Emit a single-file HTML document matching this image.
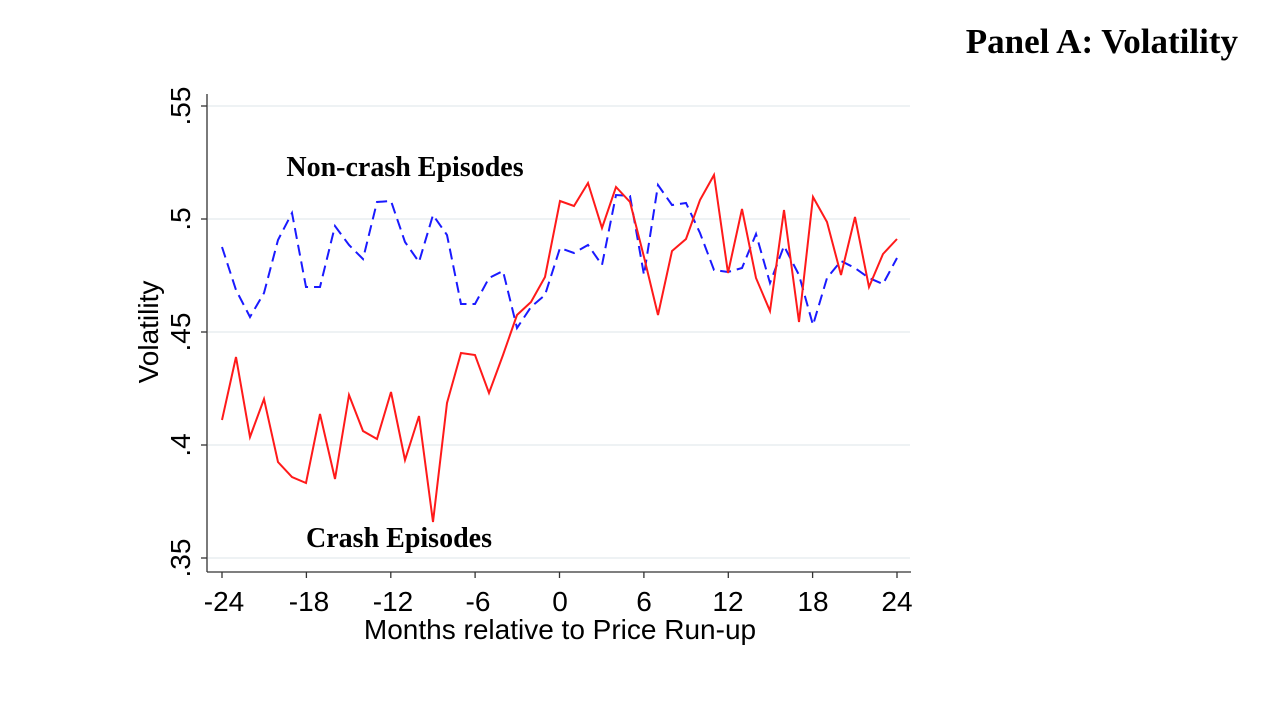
<!DOCTYPE html>
<html><head><style>body{margin:0;background:#fff}svg{display:block}</style></head>
<body>
<svg width="1261" height="702" xmlns="http://www.w3.org/2000/svg">
<rect width="1261" height="702" fill="#fff"/>
<text x="1238" y="53" text-anchor="end" font-family="Liberation Serif, serif" font-weight="bold" font-size="35">Panel A: Volatility</text>
<g stroke="#e8eef0" stroke-width="1.5">
<line x1="208" y1="106" x2="910" y2="106"/><line x1="208" y1="219" x2="910" y2="219"/><line x1="208" y1="332" x2="910" y2="332"/><line x1="208" y1="445" x2="910" y2="445"/><line x1="208" y1="558" x2="910" y2="558"/>
</g>
<g stroke="#333" stroke-width="1.3" fill="none">
<line x1="207" y1="94" x2="207" y2="572"/><line x1="207" y1="572" x2="911" y2="572"/>
<line x1="201" y1="106" x2="207" y2="106"/><line x1="201" y1="219" x2="207" y2="219"/><line x1="201" y1="332" x2="207" y2="332"/><line x1="201" y1="445" x2="207" y2="445"/><line x1="201" y1="558" x2="207" y2="558"/>
<line x1="222" y1="572" x2="222" y2="578"/><line x1="306.4" y1="572" x2="306.4" y2="578"/><line x1="390.8" y1="572" x2="390.8" y2="578"/><line x1="475.1" y1="572" x2="475.1" y2="578"/><line x1="559.5" y1="572" x2="559.5" y2="578"/><line x1="643.9" y1="572" x2="643.9" y2="578"/><line x1="728.3" y1="572" x2="728.3" y2="578"/><line x1="812.6" y1="572" x2="812.6" y2="578"/><line x1="897" y1="572" x2="897" y2="578"/>
</g>
<g font-family="Liberation Sans, sans-serif" font-size="28" fill="#000">
<g text-anchor="middle">
<text transform="translate(190,106) rotate(-90)">.55</text>
<text transform="translate(190,219) rotate(-90)">.5</text>
<text transform="translate(190,332) rotate(-90)">.45</text>
<text transform="translate(190,445) rotate(-90)">.4</text>
<text transform="translate(190,558) rotate(-90)">.35</text>
<text transform="translate(158,332) rotate(-90)">Volatility</text>
<text x="224" y="611">-24</text><text x="309" y="611">-18</text><text x="393" y="611">-12</text><text x="478" y="611">-6</text><text x="560" y="611">0</text><text x="644" y="611">6</text><text x="728" y="611">12</text><text x="813" y="611">18</text><text x="897" y="611">24</text>
<text x="560" y="639">Months relative to Price Run-up</text>
</g></g>
<text x="405" y="176" text-anchor="middle" font-family="Liberation Serif, serif" font-weight="bold" font-size="28">Non-crash Episodes</text>
<text x="399" y="547" text-anchor="middle" font-family="Liberation Serif, serif" font-weight="bold" font-size="28">Crash Episodes</text>
<polyline fill="none" stroke="#1a1aff" stroke-width="2" stroke-dasharray="11,6" points="222,247 236,290 250,317 264,293 278,240 292,213 306,287 320,287 335,226 349,245 363,259 377,202 391,201 405,242 419,262 433,215 447,235 461,304 475,304 489,278 503,271 517,328 531,307 545,295 560,248 574,253 588,245 602,265 616,195 630,196 644,275 658,185 672,205 686,203 700,233 714,270 728,272 742,268 756,234 770,283 784,246 799,275 813,325 827,278 841,261 855,268 869,278 883,284 897,258"/>
<polyline fill="none" stroke="#ff1a1a" stroke-width="2" points="222,420 236,357 250,437 264,399 278,462 292,477 306,483 320,414 335,479 349,395 363,431 377,439 391,392 405,460 419,416 433,522 447,403 461,353 475,355 489,393 503,355 517,315 531,302 545,277 560,201 574,206 588,183 602,228 616,187 630,202 644,257 658,315 672,251 686,239 700,200 714,175 728,273 742,209 756,278 770,311 784,210 799,322 813,197 827,222 841,275 855,217 869,287 883,254 897,239"/>
</svg>
</body></html>
